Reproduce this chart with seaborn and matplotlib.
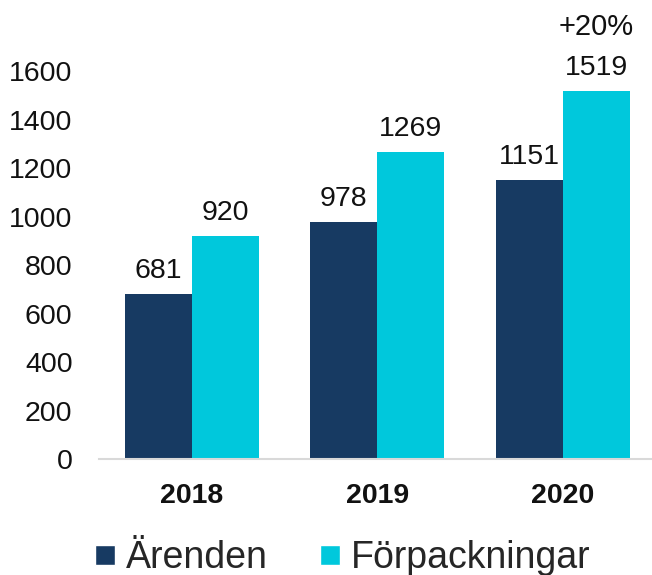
import matplotlib
matplotlib.use("Agg")
import pandas as pd
import matplotlib.pyplot as plt
from matplotlib.patches import Patch
import seaborn as sns

years = ["2018", "2019", "2020"]
series = ["Ärenden", "Förpackningar"]
arenden = [681, 978, 1151]
forpackningar = [920, 1269, 1519]
growth_note = "+20%"

colors = {"Ärenden": "#173A62", "Förpackningar": "#00C8DC"}

df = pd.DataFrame({
    "year": years * 2,
    "series": [series[0]] * 3 + [series[1]] * 3,
    "value": arenden + forpackningar,
})

sns.set_style("white")
plt.rcParams["font.family"] = ["Liberation Sans", "DejaVu Sans"]

fig = plt.figure(figsize=(6.52, 5.75), dpi=100)
ax = fig.add_axes([99 / 652, 0.2017, 1 - 99 / 652, 0.8758 - 0.2017])

sns.barplot(data=df, x="year", y="value", hue="series", order=years,
            hue_order=series, palette=colors, width=0.722, linewidth=0,
            saturation=1, legend=False, ax=ax)

for cont in ax.containers:
    ax.bar_label(cont, fmt="%d", padding=7, fontsize=20.5, color="#111111")

# growth note above last Förpackningar bar
last = ax.containers[1].patches[-1]
ax.annotate(growth_note, (last.get_x() + last.get_width() / 2, last.get_height()),
            xytext=(0, 36), textcoords="offset points", ha="center", va="bottom",
            fontsize=21, color="#111111", annotation_clip=False)

ax.set_ylim(0, 1600)
ax.set_xlim(-0.5, 2.48)
ax.set_yticks(range(0, 1601, 200))
ax.set_xlabel("")
ax.set_ylabel("")
ax.tick_params(axis="y", length=0, pad=19, labelsize=20.5, labelcolor="#111111")
ax.tick_params(axis="x", length=0, pad=17, labelsize=20.5, labelcolor="#111111")
for lab in ax.get_xticklabels():
    lab.set_fontweight("bold")

for side in ["top", "right", "left"]:
    ax.spines[side].set_visible(False)
ax.spines["bottom"].set_color("#D9D9D9")
ax.spines["bottom"].set_linewidth(1.5)

handles = [Patch(facecolor=colors[s], label=s) for s in series]
fig.legend(handles=handles, loc="center", bbox_to_anchor=(0.526, 0.029),
           ncol=2, frameon=False, fontsize=27, handlelength=0.52,
           handleheight=0.43, handletextpad=0.3, columnspacing=1.4,
           borderaxespad=0, borderpad=0)

fig.savefig("out.png", dpi=100)
